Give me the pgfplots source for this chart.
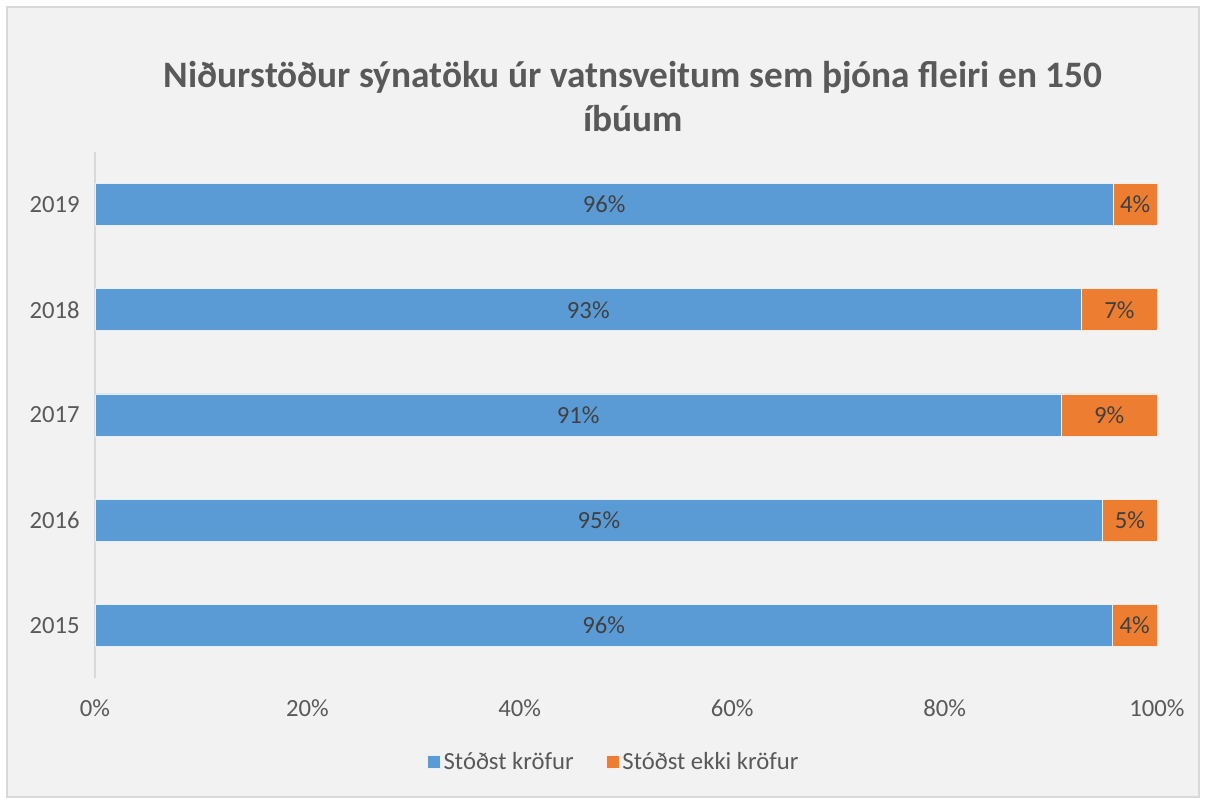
\documentclass[border=0pt]{standalone}
\usepackage{pgfplots}
\pgfplotsset{compat=1.18}
\usepackage{fontspec}
\setmainfont{Carlito}

\definecolor{bgc}{HTML}{F2F2F2}
\definecolor{framec}{HTML}{D9D9D9}
\definecolor{txtc}{HTML}{595959}
\definecolor{lblc}{HTML}{404040}
\definecolor{blueb}{HTML}{5B9BD5}
\definecolor{orangeb}{HTML}{ED7D31}

% one pixel of the reference = 0.75pt
\pgfplotsset{
  chartbox/.style={
    scale only axis,
    width=796.5pt, height=394.5pt,
    at={(71.25pt,90pt)}, anchor=south west,
    xmin=0, xmax=100,
    ymin=-0.5, ymax=4.5,
  },
}

\begin{document}
\begin{tikzpicture}
\fill[white] (0,0) rectangle (904.5pt,598.5pt);
\filldraw[fill=bgc, draw=framec, line width=1.2pt] (5.25pt,0.75pt) rectangle (899.25pt,593.25pt);

\node[font=\fontsize{28}{32.5}\selectfont\bfseries, text=txtc, align=center]
  at (474.75pt,526pt) {Niðurstöður sýnatöku úr vatnsveitum sem þjóna fleiri en 150\\íbúum};

\begin{axis}[
    chartbox,
    xbar stacked,
    bar width=31.5pt,
    axis lines*=left,
    x axis line style={draw=none},
    y axis line style={draw=framec, line width=1pt},
    major tick length=0pt,
    ytick={0,1,2,3,4},
    yticklabels={2015,2016,2017,2018,2019},
    xtick={0,20,40,60,80,100},
    xticklabel={\pgfmathprintnumber{\tick}\%},
    /pgf/number format/assume math mode=true,
    tick label style={font=\fontsize{18.5}{22}\selectfont, text=txtc},
    yticklabel style={xshift=-8pt},
    xticklabel style={yshift=-13pt},
    legend style={
      at={(0.4887,-0.1597)}, anchor=center,
      draw=none, fill=none,
      legend columns=-1,
      font=\fontsize{18.5}{22}\selectfont, text=txtc,
      /tikz/every even column/.append style={column sep=22pt},
    },
    legend image code/.code={\fill[#1] (0pt,-5pt) rectangle (10pt,5pt);},
]
\addplot[fill=blueb, draw=white!85!blueb, line width=0.6pt] coordinates {
    (95.8,0) (94.9,1) (91.0,2) (92.9,3) (95.9,4)
};
\addplot[fill=orangeb, draw=white!85!orangeb, line width=0.6pt] coordinates {
    (4.2,0) (5.1,1) (9.0,2) (7.1,3) (4.1,4)
};
\legend{Stóðst kröfur, Stóðst ekki kröfur}
\end{axis}

% data labels, centred in each segment
\begin{axis}[
    chartbox,
    hide axis,
    clip=false,
]
\addplot[draw=none, mark=none, nodes near coords, point meta=explicit symbolic,
    nodes near coords style={anchor=center, font=\fontsize{18.5}{22}\selectfont, text=lblc}]
  coordinates {
    (47.90,0) [96\%] (47.45,1) [95\%] (45.50,2) [91\%] (46.45,3) [93\%] (47.95,4) [96\%]
    (97.90,0) [4\%] (97.45,1) [5\%] (95.50,2) [9\%] (96.45,3) [7\%] (97.95,4) [4\%]
};
\end{axis}
\end{tikzpicture}
\end{document}
